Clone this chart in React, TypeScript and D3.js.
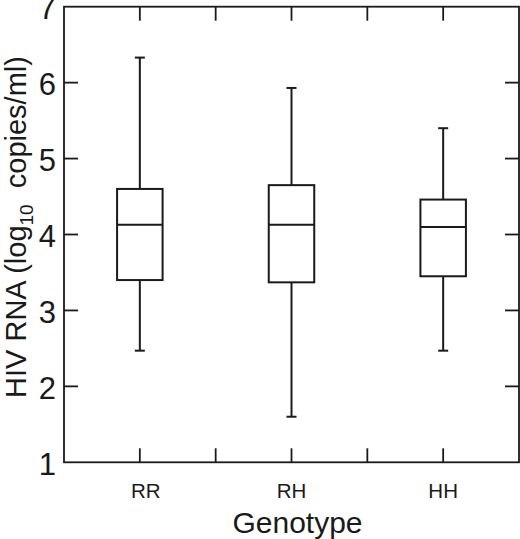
import React from 'react';
import * as d3 from 'd3';

const categories = ['RR', 'RH', 'HH'];
const mins = [2.47, 1.6, 2.47];
const q1s = [3.4, 3.37, 3.45];
const medians = [4.13, 4.13, 4.1];
const q3s = [4.6, 4.65, 4.46];
const maxs = [6.33, 5.93, 5.4];
const yTicks = [1, 2, 3, 4, 5, 6, 7];
const xTicks = [1, 2, 3, 4, 5];

const W = 520;
const H = 539;
const FONT = '"Liberation Sans", Arial, Helvetica, sans-serif';
const INK = '#1a1a1a';

export default function App() {
  const x = d3.scaleLinear().domain([0, 6]).range([64, 519]);
  const y = d3.scaleLinear().domain([1, 7]).range([462.3, 6.7]);
  const tick = 14;
  const boxHalf = x(0.3) - x(0);
  const capHalf = 5;

  return (
    <svg
      width={W}
      height={H}
      style={{ position: 'absolute', left: 0, top: 0, background: '#fff' }}
      fontFamily={FONT}
    >
      {/* frame */}
      <rect
        x={x(0)}
        y={y(7)}
        width={x(6) - x(0)}
        height={y(1) - y(7)}
        fill="none"
        stroke={INK}
        strokeWidth={1.8}
      />

      {/* y ticks left + right, inward */}
      {yTicks.slice(1, -1).map((t) => (
        <g key={'y' + t} stroke={INK} strokeWidth={1.8}>
          <line x1={x(0)} x2={x(0) + tick} y1={y(t)} y2={y(t)} />
          <line x1={x(6) - tick} x2={x(6)} y1={y(t)} y2={y(t)} />
        </g>
      ))}
      {yTicks.map((t) => (
        <text
          key={'yl' + t}
          x={56}
          y={y(t) + 12.5}
          textAnchor="end"
          fontSize={31}
          fill={INK}
        >
          {t}
        </text>
      ))}

      {/* x ticks top + bottom, inward */}
      {xTicks.map((t) => (
        <g key={'x' + t} stroke={INK} strokeWidth={1.8}>
          <line x1={x(t)} x2={x(t)} y1={y(7)} y2={y(7) + tick} />
          <line x1={x(t)} x2={x(t)} y1={y(1) - tick} y2={y(1)} />
        </g>
      ))}

      {/* boxes */}
      {categories.map((c, i) => {
        const cx = x(1 + i * 2);
        return (
          <g key={c} stroke={INK} strokeWidth={2} fill="none">
            <line x1={cx} x2={cx} y1={y(q3s[i])} y2={y(maxs[i])} />
            <line x1={cx} x2={cx} y1={y(q1s[i])} y2={y(mins[i])} />
            <line x1={cx - capHalf} x2={cx + capHalf} y1={y(maxs[i])} y2={y(maxs[i])} />
            <line x1={cx - capHalf} x2={cx + capHalf} y1={y(mins[i])} y2={y(mins[i])} />
            <rect
              x={cx - boxHalf}
              y={y(q3s[i])}
              width={boxHalf * 2}
              height={y(q1s[i]) - y(q3s[i])}
              fill="#fff"
            />
            <line x1={cx - boxHalf} x2={cx + boxHalf} y1={y(medians[i])} y2={y(medians[i])} />
            <text
              x={cx}
              dx={i === 0 ? 6 : 0}
              y={497.5}
              textAnchor="middle"
              fontSize={20.5}
              fill={INK}
              stroke="none"
            >
              {c}
            </text>
          </g>
        );
      })}

      {/* axis titles */}
      <text x={(x(0) + x(6)) / 2 + 6} y={532.5} textAnchor="middle" fontSize={30} fill={INK}>
        Genotype
      </text>
      <text
        transform={`translate(26,${227}) rotate(-90)`}
        textAnchor="middle"
        fontSize={29}
        fill={INK}
      >
        HIV RNA (log
        <tspan fontSize={19} dy={7}>10</tspan>
        <tspan dy={-7}>{'\u00a0 copies/ml)'}</tspan>
      </text>
    </svg>
  );
}
